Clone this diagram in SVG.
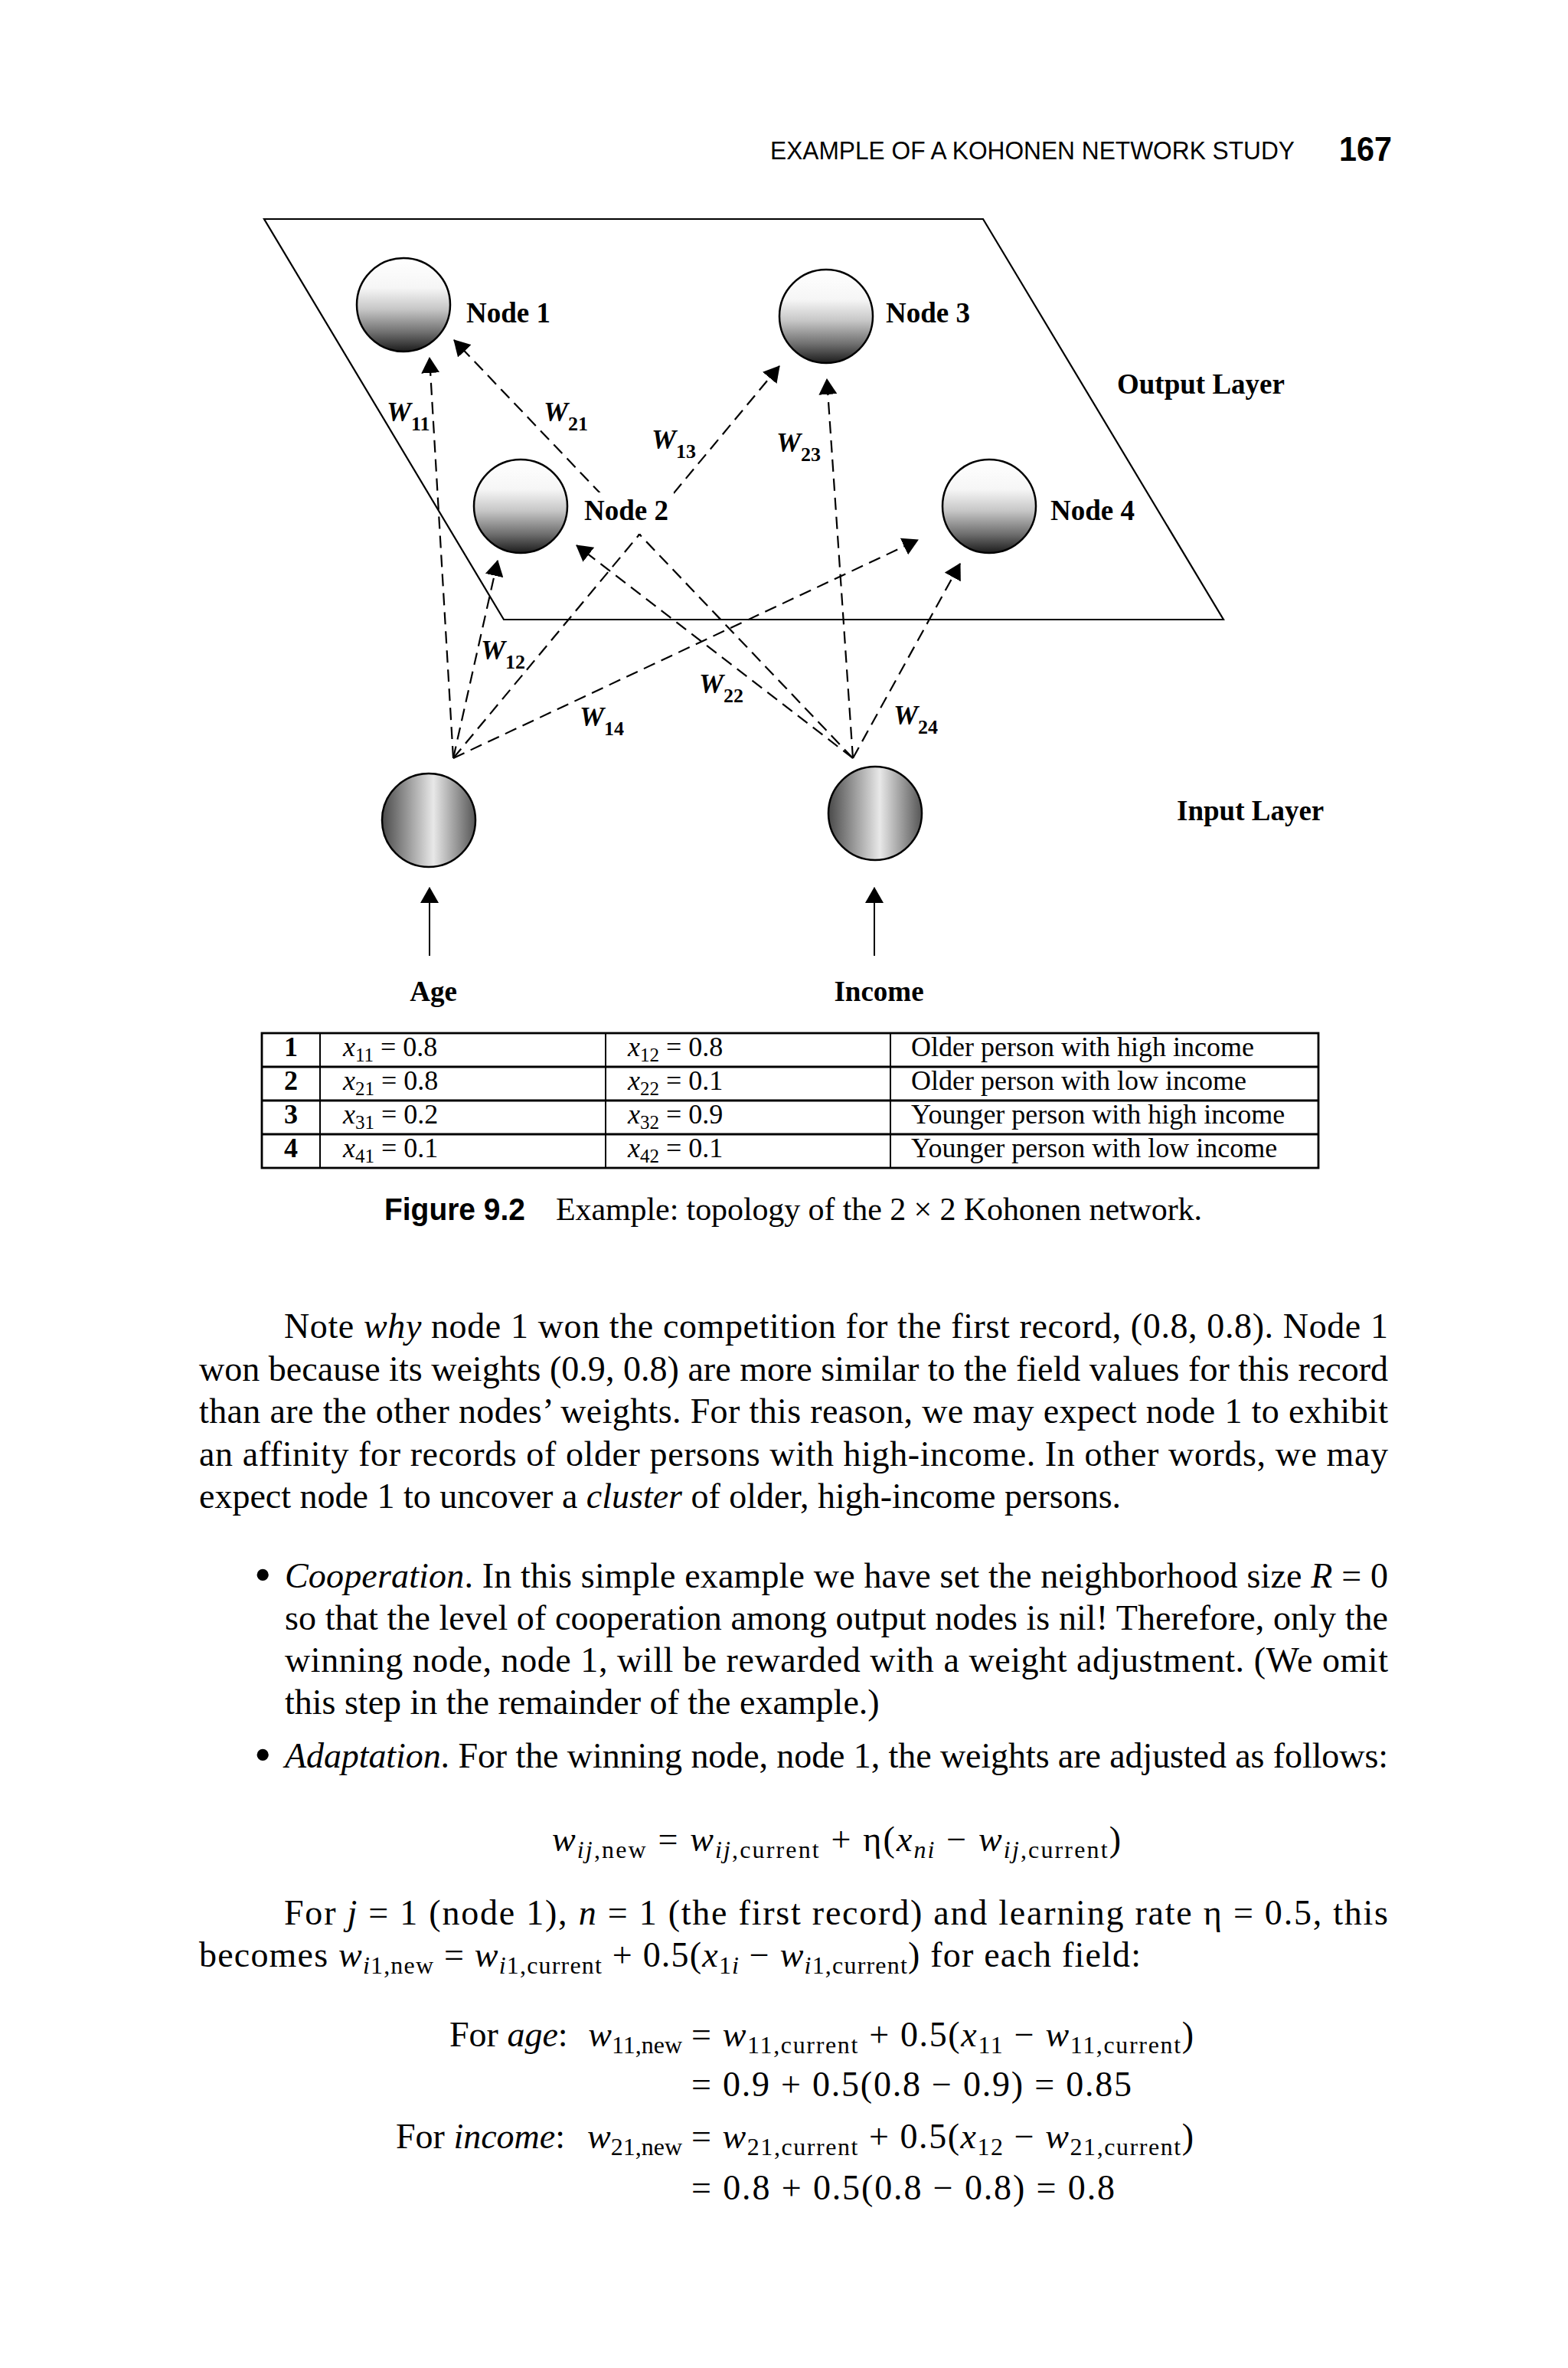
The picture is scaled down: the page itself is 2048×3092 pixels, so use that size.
<svg xmlns="http://www.w3.org/2000/svg" width="2048" height="3092" viewBox="0 0 2048 3092">
<style>
.lbl{font-family:"Liberation Serif",serif;font-weight:bold;font-size:37px;fill:#000}
.w{font-family:"Liberation Serif",serif;font-weight:bold;font-style:italic;font-size:36px;fill:#000}
.ws{font-size:26px;font-style:normal}
.body{font-family:"Liberation Serif",serif;font-size:46px;fill:#000}
.bul{font-family:"Liberation Serif",serif;font-size:64px;fill:#000}
.tb{font-family:"Liberation Serif",serif;font-size:36px;fill:#000}
.ts{font-size:25px;font-style:normal}
.i{font-style:italic}
.s{font-size:32px}
.dash{stroke:#000;stroke-width:2.2;fill:none;stroke-dasharray:16 9;marker-end:url(#ah)}
.solid{stroke:#000;stroke-width:2;fill:none;marker-end:url(#ah)}
.outn{fill:url(#gOut);stroke:#000;stroke-width:2.5}
.inn{fill:url(#gIn);stroke:#000;stroke-width:2.5}
.grid{stroke:#000;fill:none}
</style>
<defs>
<linearGradient id="gOut" x1="0" y1="0" x2="0" y2="1">
<stop offset="0" stop-color="#ffffff"/>
<stop offset="0.32" stop-color="#f6f6f6"/>
<stop offset="0.55" stop-color="#c6c6c6"/>
<stop offset="0.8" stop-color="#6e6e6e"/>
<stop offset="1" stop-color="#1c1c1c"/>
</linearGradient>
<linearGradient id="gIn" x1="0" y1="0" x2="1" y2="0">
<stop offset="0" stop-color="#4a4a4a"/>
<stop offset="0.55" stop-color="#e8e8e8"/>
<stop offset="1" stop-color="#565656"/>
</linearGradient>
<marker id="ah" markerUnits="userSpaceOnUse" markerWidth="21" markerHeight="24" viewBox="0 0 21 24" refX="20" refY="12" orient="auto">
<path d="M0,0 L21,12 L0,24 Z" fill="#000"/>
</marker>
</defs>
<rect width="2048" height="3092" fill="#fff"/>

<g id="header">
<text x="1006" y="208" font-family="Liberation Sans, sans-serif" font-size="33" textLength="685" lengthAdjust="spacingAndGlyphs">EXAMPLE OF A KOHONEN NETWORK STUDY</text>
<text x="1749" y="210" font-family="Liberation Sans, sans-serif" font-weight="bold" font-size="44" textLength="69" lengthAdjust="spacingAndGlyphs">167</text>
</g>

<g id="output-layer">
<polygon points="345,286 1284,286 1598,809 658,809" fill="none" stroke="#000" stroke-width="2.2"/>
<text class="lbl" x="1459" y="514">Output Layer</text>
</g>

<g id="connectors">
<line class="dash" x1="592" y1="990" x2="561" y2="467"/>
<line class="dash" x1="1114" y1="990" x2="593" y2="444"/>
<line class="dash" x1="592" y1="990" x2="1018" y2="478"/>
<line class="dash" x1="1114" y1="990" x2="1080" y2="495"/>
<line class="dash" x1="592" y1="990" x2="650" y2="732"/>
<line class="dash" x1="1114" y1="990" x2="753" y2="712"/>
<line class="dash" x1="592" y1="990" x2="1199" y2="705"/>
<line class="dash" x1="1114" y1="990" x2="1254" y2="736"/>
<line class="solid" x1="561" y1="1248" x2="561" y2="1159"/>
<line class="solid" x1="1142" y1="1248" x2="1142" y2="1159"/>
</g>

<g id="weights">
<text class="w" x="505" y="550">W<tspan class="ws" dy="12">11</tspan></text>
<text class="w" x="710" y="550">W<tspan class="ws" dy="12">21</tspan></text>
<text class="w" x="851" y="586">W<tspan class="ws" dy="12">13</tspan></text>
<text class="w" x="1014" y="590">W<tspan class="ws" dy="12">23</tspan></text>
<text class="w" x="628" y="861">W<tspan class="ws" dy="12">12</tspan></text>
<text class="w" x="913" y="905">W<tspan class="ws" dy="12">22</tspan></text>
<text class="w" x="757" y="948">W<tspan class="ws" dy="12">14</tspan></text>
<text class="w" x="1167" y="946">W<tspan class="ws" dy="12">24</tspan></text>
</g>

<g id="node1">
<circle class="outn" cx="527" cy="398" r="61"/>
<text class="lbl" x="609" y="421">Node 1</text>
</g>
<g id="node3">
<circle class="outn" cx="1079" cy="413" r="61"/>
<text class="lbl" x="1157" y="421">Node 3</text>
</g>
<g id="node2">
<circle class="outn" cx="680" cy="661" r="61"/>
<rect x="758" y="643" width="122" height="54" fill="#fff"/>
<text class="lbl" x="763" y="679">Node 2</text>
</g>
<g id="node4">
<circle class="outn" cx="1292" cy="661" r="61"/>
<text class="lbl" x="1372" y="679">Node 4</text>
</g>

<g id="input-age">
<circle class="inn" cx="560" cy="1071" r="61"/>
<text class="lbl" x="566" y="1307" text-anchor="middle">Age</text>
</g>
<g id="input-income">
<circle class="inn" cx="1143" cy="1062" r="61"/>
<text class="lbl" x="1148" y="1307" text-anchor="middle">Income</text>
</g>
<g id="input-layer-label">
<text class="lbl" x="1537" y="1071">Input Layer</text>
</g>

<g id="table">
<rect class="grid" x="342" y="1349" width="1380" height="176" stroke-width="2.8"/>
<line class="grid" x1="342" y1="1393" x2="1722" y2="1393" stroke-width="2.8"/>
<line class="grid" x1="342" y1="1437" x2="1722" y2="1437" stroke-width="2.8"/>
<line class="grid" x1="342" y1="1481" x2="1722" y2="1481" stroke-width="2.8"/>
<line class="grid" x1="418" y1="1349" x2="418" y2="1525" stroke-width="2"/>
<line class="grid" x1="791" y1="1349" x2="791" y2="1525" stroke-width="2"/>
<line class="grid" x1="1163" y1="1349" x2="1163" y2="1525" stroke-width="2"/>
<g class="tb">
<text class="tb" x="380" y="1379" text-anchor="middle" font-weight="bold">1</text>
<text class="tb" x="380" y="1423" text-anchor="middle" font-weight="bold">2</text>
<text class="tb" x="380" y="1467" text-anchor="middle" font-weight="bold">3</text>
<text class="tb" x="380" y="1511" text-anchor="middle" font-weight="bold">4</text>
<text class="tb" x="448" y="1379"><tspan class="i">x</tspan><tspan class="ts" dy="7">11</tspan><tspan dy="-7"> = 0.8</tspan></text>
<text class="tb" x="448" y="1423"><tspan class="i">x</tspan><tspan class="ts" dy="7">21</tspan><tspan dy="-7"> = 0.8</tspan></text>
<text class="tb" x="448" y="1467"><tspan class="i">x</tspan><tspan class="ts" dy="7">31</tspan><tspan dy="-7"> = 0.2</tspan></text>
<text class="tb" x="448" y="1511"><tspan class="i">x</tspan><tspan class="ts" dy="7">41</tspan><tspan dy="-7"> = 0.1</tspan></text>
<text class="tb" x="820" y="1379"><tspan class="i">x</tspan><tspan class="ts" dy="7">12</tspan><tspan dy="-7"> = 0.8</tspan></text>
<text class="tb" x="820" y="1423"><tspan class="i">x</tspan><tspan class="ts" dy="7">22</tspan><tspan dy="-7"> = 0.1</tspan></text>
<text class="tb" x="820" y="1467"><tspan class="i">x</tspan><tspan class="ts" dy="7">32</tspan><tspan dy="-7"> = 0.9</tspan></text>
<text class="tb" x="820" y="1511"><tspan class="i">x</tspan><tspan class="ts" dy="7">42</tspan><tspan dy="-7"> = 0.1</tspan></text>
<text class="tb" x="1190" y="1379">Older person with high income</text>
<text class="tb" x="1190" y="1423">Older person with low income</text>
<text class="tb" x="1190" y="1467">Younger person with high income</text>
<text class="tb" x="1190" y="1511">Younger person with low income</text>
</g>
</g>

<g id="caption">
<text x="502" y="1593" font-family="Liberation Sans, sans-serif" font-weight="bold" font-size="40" textLength="184" lengthAdjust="spacingAndGlyphs">Figure 9.2</text>
<text x="726" y="1593" font-family="Liberation Serif, serif" font-size="42" textLength="844">Example: topology of the 2 × 2 Kohonen network.</text>
</g>

<g id="body-text">
<text class="body" x="371" y="1747" textLength="1442">Note <tspan class="i">why</tspan> node 1 won the competition for the first record, (0.8, 0.8). Node 1</text>
<text class="body" x="260" y="1803" textLength="1553">won because its weights (0.9, 0.8) are more similar to the field values for this record</text>
<text class="body" x="260" y="1858" textLength="1553">than are the other nodes’ weights. For this reason, we may expect node 1 to exhibit</text>
<text class="body" x="260" y="1914" textLength="1553">an affinity for records of older persons with high-income. In other words, we may</text>
<text class="body" x="260" y="1969">expect node 1 to uncover a <tspan class="i">cluster</tspan> of older, high-income persons.</text>

<text class="bul" x="332" y="2078">•</text>
<text class="body" x="372" y="2073" textLength="1441"><tspan class="i">Cooperation</tspan>. In this simple example we have set the neighborhood size <tspan class="i">R</tspan> = 0</text>
<text class="body" x="372" y="2128" textLength="1441">so that the level of cooperation among output nodes is nil! Therefore, only the</text>
<text class="body" x="372" y="2183" textLength="1441">winning node, node 1, will be rewarded with a weight adjustment. (We omit</text>
<text class="body" x="372" y="2238">this step in the remainder of the example.)</text>
<text class="bul" x="332" y="2313">•</text>
<text class="body" x="372" y="2308" textLength="1441"><tspan class="i">Adaptation</tspan>. For the winning node, node 1, the weights are adjusted as follows:</text>

<text class="body" x="721" y="2417" textLength="743"><tspan class="i">w</tspan><tspan class="s i" dy="9">ij</tspan><tspan class="s">,new</tspan><tspan dy="-9"> = </tspan><tspan class="i">w</tspan><tspan class="s i" dy="9">ij</tspan><tspan class="s">,current</tspan><tspan dy="-9"> + η(</tspan><tspan class="i">x</tspan><tspan class="s i" dy="9">ni</tspan><tspan dy="-9"> − </tspan><tspan class="i">w</tspan><tspan class="s i" dy="9">ij</tspan><tspan class="s">,current</tspan><tspan dy="-9">)</tspan></text>

<text class="body" x="371" y="2513" textLength="1442">For <tspan class="i">j</tspan> = 1 (node 1), <tspan class="i">n</tspan> = 1 (the first record) and learning rate η = 0.5, this</text>
<text class="body" x="260" y="2568" textLength="1230">becomes <tspan class="i">w</tspan><tspan class="s" dy="9"><tspan class="i">i</tspan>1,new</tspan><tspan dy="-9"> = </tspan><tspan class="i">w</tspan><tspan class="s" dy="9"><tspan class="i">i</tspan>1,current</tspan><tspan dy="-9"> + 0.5(</tspan><tspan class="i">x</tspan><tspan class="s" dy="9">1<tspan class="i">i</tspan></tspan><tspan dy="-9"> − </tspan><tspan class="i">w</tspan><tspan class="s" dy="9"><tspan class="i">i</tspan>1,current</tspan><tspan dy="-9">) for each field:</tspan></text>

<text class="body" x="587" y="2672">For <tspan class="i">age</tspan>:</text>
<text class="body" x="891" y="2672" text-anchor="end"><tspan class="i">w</tspan><tspan class="s" dy="9">11,new</tspan></text>
<text class="body" x="903" y="2672" textLength="656"><tspan>= </tspan><tspan class="i">w</tspan><tspan class="s" dy="9">11,current</tspan><tspan dy="-9"> + 0.5(</tspan><tspan class="i">x</tspan><tspan class="s" dy="9">11</tspan><tspan dy="-9"> − </tspan><tspan class="i">w</tspan><tspan class="s" dy="9">11,current</tspan><tspan dy="-9">)</tspan></text>
<text class="body" x="903" y="2737" textLength="575">= 0.9 + 0.5(0.8 − 0.9) = 0.85</text>
<text class="body" x="517" y="2805">For <tspan class="i">income</tspan>:</text>
<text class="body" x="891" y="2805" text-anchor="end"><tspan class="i">w</tspan><tspan class="s" dy="9">21,new</tspan></text>
<text class="body" x="903" y="2805" textLength="656"><tspan>= </tspan><tspan class="i">w</tspan><tspan class="s" dy="9">21,current</tspan><tspan dy="-9"> + 0.5(</tspan><tspan class="i">x</tspan><tspan class="s" dy="9">12</tspan><tspan dy="-9"> − </tspan><tspan class="i">w</tspan><tspan class="s" dy="9">21,current</tspan><tspan dy="-9">)</tspan></text>
<text class="body" x="903" y="2872" textLength="553">= 0.8 + 0.5(0.8 − 0.8) = 0.8</text>
</g>
</svg>
